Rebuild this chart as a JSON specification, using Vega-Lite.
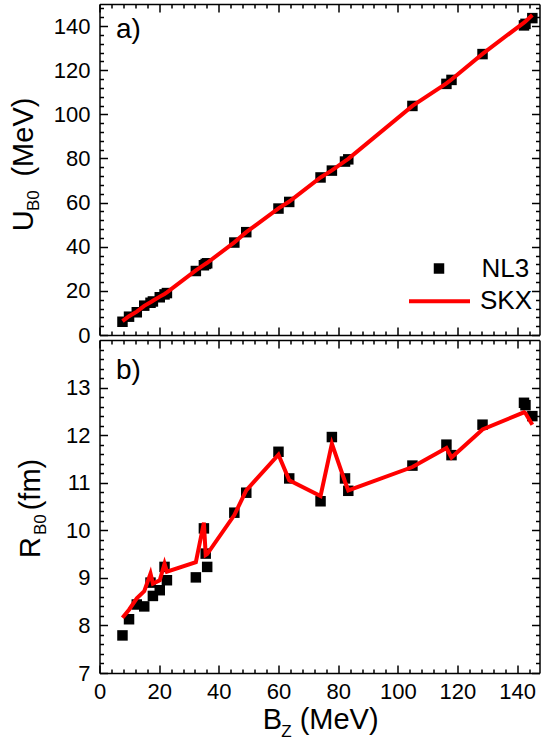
{
  "$schema": "https://vega.github.io/schema/vega-lite/v6.json",
  "padding": {"left": 9.5, "top": 3, "right": 0, "bottom": 0},
  "spacing": 5,
  "bounds": "flush",
  "datasets": {
    "nuclei": [
      {"b": 7.7, "u_nl3": 6.0, "u_skx": 6.3, "r_nl3": 7.79, "r_skx": 8.16},
      {"b": 9.9, "u_nl3": 8.3, "u_skx": 8.5, "r_nl3": 8.13, "r_skx": 8.33},
      {"b": 12.5, "u_nl3": 10.3, "u_skx": 10.6, "r_nl3": 8.44, "r_skx": 8.57},
      {"b": 15.0, "u_nl3": 13.3, "u_skx": 13.2, "r_nl3": 8.40, "r_skx": 8.72},
      {"b": 17.1, "u_nl3": 14.6, "u_skx": 14.8, "r_nl3": 8.90, "r_skx": 9.09},
      {"b": 17.9, "u_nl3": 15.2, "u_skx": 15.5, "r_nl3": 8.62, "r_skx": 8.88},
      {"b": 20.2, "u_nl3": 17.1, "u_skx": 17.4, "r_nl3": 8.74, "r_skx": 8.95},
      {"b": 21.8, "u_nl3": 18.4, "u_skx": 18.6, "r_nl3": 9.23, "r_skx": 9.30},
      {"b": 22.6, "u_nl3": 19.0, "u_skx": 19.3, "r_nl3": 8.95, "r_skx": 9.13},
      {"b": 32.3, "u_nl3": 29.0, "u_skx": 29.3, "r_nl3": 9.01, "r_skx": 9.33},
      {"b": 35.0, "u_nl3": 31.6, "u_skx": 31.8, "r_nl3": 10.04, "r_skx": 10.16},
      {"b": 35.6, "u_nl3": 32.2, "u_skx": 32.3, "r_nl3": 9.51, "r_skx": 9.48},
      {"b": 36.1, "u_nl3": 32.5, "u_skx": 32.7, "r_nl3": 9.23, "r_skx": 9.50},
      {"b": 45.2, "u_nl3": 41.9, "u_skx": 42.0, "r_nl3": 10.37, "r_skx": 10.32},
      {"b": 49.2, "u_nl3": 46.6, "u_skx": 46.6, "r_nl3": 10.79, "r_skx": 10.84},
      {"b": 60.0, "u_nl3": 57.3, "u_skx": 57.4, "r_nl3": 11.65, "r_skx": 11.59},
      {"b": 63.6, "u_nl3": 60.3, "u_skx": 60.5, "r_nl3": 11.09, "r_skx": 11.05},
      {"b": 74.1, "u_nl3": 71.4, "u_skx": 71.4, "r_nl3": 10.61, "r_skx": 10.72},
      {"b": 77.9, "u_nl3": 74.5, "u_skx": 74.6, "r_nl3": 11.96, "r_skx": 11.82},
      {"b": 82.3, "u_nl3": 78.6, "u_skx": 78.8, "r_nl3": 11.09, "r_skx": 11.02},
      {"b": 83.4, "u_nl3": 79.6, "u_skx": 79.8, "r_nl3": 10.83, "r_skx": 10.84},
      {"b": 104.9, "u_nl3": 103.8, "u_skx": 103.8, "r_nl3": 11.36, "r_skx": 11.33},
      {"b": 116.3, "u_nl3": 113.8, "u_skx": 114.0, "r_nl3": 11.80, "r_skx": 11.73},
      {"b": 118.0, "u_nl3": 115.6, "u_skx": 115.8, "r_nl3": 11.58, "r_skx": 11.53},
      {"b": 128.4, "u_nl3": 127.3, "u_skx": 127.4, "r_nl3": 12.22, "r_skx": 12.12},
      {"b": 142.3, "u_nl3": 140.3, "u_skx": 141.6, "r_nl3": 12.68, "r_skx": 12.48},
      {"b": 142.8, "u_nl3": 141.0, "u_skx": 142.1, "r_nl3": 12.63, "r_skx": 12.46},
      {"b": 145.1, "u_nl3": 143.6, "u_skx": 145.0, "r_nl3": 12.40, "r_skx": 12.22}
    ]
  },
  "config": {
    "view": {"stroke": null},
    "font": "Liberation Sans",
    "axis": {
      "grid": false,
      "domainColor": "black",
      "domainWidth": 1.5,
      "tickColor": "black",
      "tickWidth": 1.5,
      "labelFont": "Liberation Sans",
      "labelFontSize": 22,
      "labelColor": "black",
      "labelOverlap": false,
      "labelFlush": false
    },
    "legend": {
      "labelFont": "Liberation Sans",
      "labelFontSize": 26,
      "labelColor": "black",
      "padding": 0
    },
    "text": {"font": "Liberation Sans", "color": "black"}
  },
  "resolve": {"scale": {"color": "independent", "shape": "independent"}},
  "vconcat": [
    {
      "width": 440,
      "height": 331,
      "data": {"name": "nuclei"},
      "resolve": {"axis": {"x": "independent", "y": "independent"}},
      "layer": [
        {
          "mark": {"type": "point", "filled": true, "size": 110, "color": "black", "opacity": 1},
          "encoding": {
            "x": {
              "field": "b", "type": "quantitative",
              "scale": {"domain": [0, 147.5], "nice": false, "zero": false},
              "axis": {"orient": "bottom", "title": null, "labels": false, "ticks": false, "values": [0,20,40,60,80,100,120,140]}
            },
            "y": {
              "field": "u_nl3", "type": "quantitative",
              "scale": {"domain": [0, 150], "nice": false, "zero": false},
              "axis": {"orient": "left", "title": null, "ticks": false, "labelPadding": 9.5, "format": "d", "values": [0,20,40,60,80,100,120,140]}
            },
            "shape": {
              "datum": "NL3", "type": "nominal",
              "scale": {"range": ["square"]},
              "legend": {
                "orient": "none", "legendX": 326.5, "legendY": 251.5, "title": null,
                "symbolSize": 110, "symbolFillColor": "black", "symbolStrokeWidth": 0,
                "labelOffset": 29.5
              }
            }
          }
        },
        {
          "mark": {"type": "line", "strokeWidth": 4},
          "encoding": {
            "x": {
              "field": "b", "type": "quantitative",
              "axis": {
                "orient": "top", "title": null, "labels": false,
                "values": [0,4,8,12,16,20,24,28,32,36,40,44,48,52,56,60,64,68,72,76,80,84,88,92,96,100,104,108,112,116,120,124,128,132,136,140,144],
                "tickSize": {"condition": {"test": "datum.value % 20 === 0", "value": -8}, "value": -4}
              }
            },
            "y": {
              "field": "u_skx", "type": "quantitative",
              "axis": {
                "orient": "right", "title": null, "labels": false,
                "values": [0,4,8,12,16,20,24,28,32,36,40,44,48,52,56,60,64,68,72,76,80,84,88,92,96,100,104,108,112,116,120,124,128,132,136,140,144,148],
                "tickSize": {"condition": {"test": "datum.value % 20 === 0", "value": -8}, "value": -4}
              }
            },
            "color": {
              "datum": "SKX", "type": "nominal",
              "scale": {"range": ["#ff0000"]},
              "legend": {
                "orient": "none", "legendX": 307.5, "legendY": 264.7, "title": null,
                "symbolType": "stroke", "symbolSize": 3721, "symbolStrokeWidth": 4,
                "labelOffset": 8
              }
            }
          }
        },
        {
          "data": {"values": [{}]},
          "mark": {"type": "text", "text": "a)", "fontSize": 28, "align": "left", "baseline": "alphabetic"},
          "encoding": {
            "x": {
              "datum": 5.5, "type": "quantitative",
              "axis": {
                "orient": "bottom", "title": null, "labels": false, "domain": false,
                "values": [0,4,8,12,16,20,24,28,32,36,40,44,48,52,56,60,64,68,72,76,80,84,88,92,96,100,104,108,112,116,120,124,128,132,136,140,144],
                "tickSize": {"condition": {"test": "datum.value % 20 === 0", "value": -8}, "value": -4}
              }
            },
            "y": {
              "datum": 134.4, "type": "quantitative",
              "axis": {
                "orient": "left", "title": null, "labels": false, "domain": false,
                "values": [0,4,8,12,16,20,24,28,32,36,40,44,48,52,56,60,64,68,72,76,80,84,88,92,96,100,104,108,112,116,120,124,128,132,136,140,144,148],
                "tickSize": {"condition": {"test": "datum.value % 20 === 0", "value": -8}, "value": -4}
              }
            }
          }
        },
        {
          "data": {"values": [{}]},
          "mark": {"type": "text", "text": "U", "fontSize": 29, "angle": 270, "align": "left", "baseline": "alphabetic", "clip": false},
          "encoding": {
            "x": {"datum": -22.2, "type": "quantitative", "axis": null},
            "y": {"datum": 47.0, "type": "quantitative", "axis": null}
          }
        },
        {
          "data": {"values": [{}]},
          "mark": {"type": "text", "text": "B0", "fontSize": 17, "angle": 270, "align": "left", "baseline": "alphabetic", "clip": false},
          "encoding": {
            "x": {"datum": -20.2, "type": "quantitative", "axis": null},
            "y": {"datum": 56.2, "type": "quantitative", "axis": null}
          }
        },
        {
          "data": {"values": [{}]},
          "mark": {"type": "text", "text": "(MeV)", "fontSize": 29, "angle": 270, "align": "left", "baseline": "alphabetic", "clip": false},
          "encoding": {
            "x": {"datum": -22.2, "type": "quantitative", "axis": null},
            "y": {"datum": 71.8, "type": "quantitative", "axis": null}
          }
        }
      ]
    },
    {
      "width": 440,
      "height": 333,
      "data": {"name": "nuclei"},
      "resolve": {"axis": {"x": "independent", "y": "independent"}},
      "layer": [
        {
          "mark": {"type": "point", "shape": "square", "filled": true, "size": 110, "color": "black", "opacity": 1},
          "encoding": {
            "x": {
              "field": "b", "type": "quantitative",
              "scale": {"domain": [0, 147.5], "nice": false, "zero": false},
              "axis": {"orient": "bottom", "title": null, "ticks": false, "labelPadding": 8.5, "format": "d", "values": [0,20,40,60,80,100,120,140]}
            },
            "y": {
              "field": "r_nl3", "type": "quantitative",
              "scale": {"domain": [7, 14], "nice": false, "zero": false},
              "axis": {"orient": "left", "title": null, "ticks": false, "labelPadding": 9.5, "format": "d", "values": [7,8,9,10,11,12,13]}
            }
          }
        },
        {
          "mark": {"type": "line", "strokeWidth": 4, "color": "#ff0000"},
          "encoding": {
            "x": {
              "field": "b", "type": "quantitative",
              "axis": {
                "orient": "top", "title": null, "labels": false,
                "values": [0,4,8,12,16,20,24,28,32,36,40,44,48,52,56,60,64,68,72,76,80,84,88,92,96,100,104,108,112,116,120,124,128,132,136,140,144],
                "tickSize": {"condition": {"test": "datum.value % 20 === 0", "value": -8}, "value": -4}
              }
            },
            "y": {
              "field": "r_skx", "type": "quantitative",
              "axis": {
                "orient": "right", "title": null, "labels": false,
                "values": [7,7.2,7.4,7.6,7.8,8,8.2,8.4,8.6,8.8,9,9.2,9.4,9.6,9.8,10,10.2,10.4,10.6,10.8,11,11.2,11.4,11.6,11.8,12,12.2,12.4,12.6,12.8,13,13.2,13.4,13.6,13.8],
                "tickSize": {"condition": {"test": "abs(datum.value - round(datum.value)) < 0.001", "value": -8}, "value": -4}
              }
            }
          }
        },
        {
          "data": {"values": [{}]},
          "mark": {"type": "text", "text": "b)", "fontSize": 28, "align": "left", "baseline": "alphabetic"},
          "encoding": {
            "x": {
              "datum": 5.5, "type": "quantitative",
              "axis": {
                "orient": "bottom", "title": null, "labels": false, "domain": false,
                "values": [0,4,8,12,16,20,24,28,32,36,40,44,48,52,56,60,64,68,72,76,80,84,88,92,96,100,104,108,112,116,120,124,128,132,136,140,144],
                "tickSize": {"condition": {"test": "datum.value % 20 === 0", "value": -8}, "value": -4}
              }
            },
            "y": {
              "datum": 13.19, "type": "quantitative",
              "axis": {
                "orient": "left", "title": null, "labels": false, "domain": false,
                "values": [7,7.2,7.4,7.6,7.8,8,8.2,8.4,8.6,8.8,9,9.2,9.4,9.6,9.8,10,10.2,10.4,10.6,10.8,11,11.2,11.4,11.6,11.8,12,12.2,12.4,12.6,12.8,13,13.2,13.4,13.6,13.8],
                "tickSize": {"condition": {"test": "abs(datum.value - round(datum.value)) < 0.001", "value": -8}, "value": -4}
              }
            }
          }
        },
        {
          "data": {"values": [{}]},
          "mark": {"type": "text", "text": "R", "fontSize": 29, "angle": 270, "align": "left", "baseline": "alphabetic", "clip": false},
          "encoding": {
            "x": {"datum": -19.9, "type": "quantitative", "axis": null},
            "y": {"datum": 9.42, "type": "quantitative", "axis": null}
          }
        },
        {
          "data": {"values": [{}]},
          "mark": {"type": "text", "text": "B0", "fontSize": 17, "angle": 270, "align": "left", "baseline": "alphabetic", "clip": false},
          "encoding": {
            "x": {"datum": -17.9, "type": "quantitative", "axis": null},
            "y": {"datum": 9.9, "type": "quantitative", "axis": null}
          }
        },
        {
          "data": {"values": [{}]},
          "mark": {"type": "text", "text": "(fm)", "fontSize": 29, "angle": 270, "align": "left", "baseline": "alphabetic", "clip": false},
          "encoding": {
            "x": {"datum": -19.9, "type": "quantitative", "axis": null},
            "y": {"datum": 10.42, "type": "quantitative", "axis": null}
          }
        },
        {
          "data": {"values": [{}]},
          "mark": {"type": "text", "text": "B", "fontSize": 29, "align": "left", "baseline": "alphabetic", "clip": false},
          "encoding": {
            "x": {"datum": 54.7, "type": "quantitative", "axis": null},
            "y": {"datum": 5.82, "type": "quantitative", "axis": null}
          }
        },
        {
          "data": {"values": [{}]},
          "mark": {"type": "text", "text": "Z", "fontSize": 17, "align": "left", "baseline": "alphabetic", "clip": false},
          "encoding": {
            "x": {"datum": 60.9, "type": "quantitative", "axis": null},
            "y": {"datum": 5.66, "type": "quantitative", "axis": null}
          }
        },
        {
          "data": {"values": [{}]},
          "mark": {"type": "text", "text": "(MeV)", "fontSize": 29, "align": "left", "baseline": "alphabetic", "clip": false},
          "encoding": {
            "x": {"datum": 67.1, "type": "quantitative", "axis": null},
            "y": {"datum": 5.82, "type": "quantitative", "axis": null}
          }
        }
      ]
    }
  ]
}
